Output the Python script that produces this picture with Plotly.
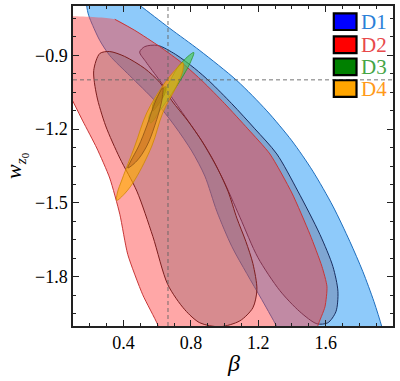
import plotly.graph_objects as go

# ---------------- data (data units: beta, w_z0) ----------------
# D1 : outer (2 sigma) and inner (1 sigma) contours
d1_outer_beta = [0.187, 0.181, 0.193, 0.217, 0.259, 0.318, 0.437, 0.586, 0.704, 0.805, 0.883, 0.954, 1.043,
                 1.132, 1.221, 1.328, 1.388,
                 1.970, 1.934, 1.887, 1.821, 1.744, 1.643, 1.524, 1.400, 1.251, 1.073, 0.853, 0.675, 0.496, 0.378]
d1_outer_w = [-0.636, -0.697, -0.738, -0.779, -0.840, -0.901, -0.983, -1.085, -1.187, -1.289, -1.391, -1.534,
              -1.677, -1.787, -1.893, -2.024, -2.101,
              -2.101, -2.004, -1.901, -1.779, -1.657, -1.513, -1.371, -1.248, -1.126, -1.003, -0.881, -0.791,
              -0.697, -0.636]
d1_inner_beta = [0.496, 0.526, 0.603, 0.710, 0.823, 0.912, 1.043, 1.180, 1.310, 1.435, 1.566, 1.643, 1.673,
                 1.661, 1.613, 1.548, 1.447, 1.328, 1.198, 1.091, 0.984, 0.871, 0.734, 0.615, 0.532]
d1_inner_w = [-0.887, -0.865, -0.860, -0.897, -0.954, -1.007, -1.097, -1.199, -1.301, -1.452, -1.628, -1.758,
              -1.860, -1.942, -1.987, -1.991, -1.942, -1.856, -1.722, -1.558, -1.395, -1.256, -1.118, -1.003,
              -0.926]

# D2 : outer contour (flat top / left side are the edge of the sampled grid) and inner contour
d2_outer_beta = [-0.098, 0.348, 0.467, 0.615, 0.752, 0.871, 1.001, 1.138, 1.269, 1.400, 1.507, 1.578, 1.608,
                 1.596, 1.554, 1.530, 0.645, 0.603, 0.514, 0.425, 0.378, 0.318, 0.241, 0.158, 0.098, -0.098]
d2_outer_w = [-0.754, -0.754, -0.799, -0.865, -0.934, -1.007, -1.097, -1.199, -1.301, -1.460, -1.628, -1.758,
              -1.840, -1.922, -1.999, -2.085, -2.085, -1.995, -1.873, -1.709, -1.546, -1.399, -1.277, -1.167,
              -1.085, -0.860]
d2_inner_beta = [0.259, 0.318, 0.407, 0.526, 0.616, 0.687, 0.782, 0.865, 0.942, 1.020, 1.073, 1.126, 1.168,
                 1.192, 1.168, 1.091, 0.972, 0.853, 0.764, 0.663, 0.574, 0.479, 0.378, 0.294, 0.241, 0.223]
d2_inner_w = [-0.893, -0.885, -0.905, -0.954, -1.011, -1.085, -1.167, -1.248, -1.338, -1.452, -1.562, -1.656,
              -1.746, -1.852, -1.926, -1.979, -2.003, -1.987, -1.934, -1.832, -1.636, -1.452, -1.318, -1.187,
              -1.065, -0.962]

# D3 : small contours
d3_outer_beta = [0.817, 0.799, 0.758, 0.686, 0.615, 0.562, 0.550, 0.591, 0.657, 0.722, 0.782]
d3_outer_w = [-0.889, -0.926, -0.979, -1.056, -1.126, -1.175, -1.154, -1.101, -1.028, -0.950, -0.905]
d3_inner_beta = [0.651, 0.645, 0.609, 0.574, 0.574, 0.603, 0.633]
d3_inner_w = [-1.028, -1.056, -1.097, -1.126, -1.101, -1.065, -1.036]

# D4 : small contours
d4_outer_beta = [0.752, 0.752, 0.716, 0.633, 0.568, 0.470, 0.410, 0.360, 0.363, 0.392, 0.467, 0.538, 0.633, 0.704]
d4_outer_w = [-0.930, -0.962, -1.024, -1.134, -1.269, -1.403, -1.460, -1.489, -1.460, -1.403, -1.269, -1.134,
              -1.024, -0.962]
d4_inner_beta = [0.633, 0.627, 0.585, 0.538, 0.478, 0.425, 0.443, 0.490, 0.538, 0.591]
d4_inner_w = [-1.032, -1.085, -1.187, -1.269, -1.330, -1.358, -1.330, -1.269, -1.187, -1.085]

# reference (dashed) lines
ref_beta = 0.664
ref_w = -1.0

# axes
x_range = [0.1, 2.0]
y_range = [-2.0, -0.7]
x_ticks = [0.4, 0.8, 1.2, 1.6]
x_ticktext = ["0.4", "0.8", "1.2", "1.6"]
y_ticks = [-0.9, -1.2, -1.5, -1.8]
y_ticktext = ["\u22120.9", "\u22121.2", "\u22121.5", "\u22121.8"]

legend_names = ["D1", "D2", "D3", "D4"]
legend_box_colors = ["#0000ff", "#ff0000", "#008000", "#ffa500"]
legend_text_colors = ["#2a7fd8", "#e8494b", "#45a545", "#ff9a1a"]

SERIF = "Liberation Serif"


def closed(a):
    return list(a) + [a[0]]


fig = go.Figure()


def region(bx, wy, fill, line_color, line_width=1.0, smooth=0.8):
    fig.add_trace(go.Scatter(
        x=closed(bx), y=closed(wy), mode="lines", fill="toself", fillcolor=fill,
        line=dict(color=line_color, width=line_width, shape="spline", smoothing=smooth),
        hoverinfo="skip", showlegend=False))


# D1
region(d1_outer_beta, d1_outer_w, "rgba(30,150,245,0.50)", "rgb(30,110,190)", 1.0)
region(d1_inner_beta, d1_inner_w, "rgba(100,100,135,0.35)", "rgb(25,45,95)", 1.0)

# D2 outer: fill without edge, then edge only along the real contour
fig.add_trace(go.Scatter(
    x=closed(d2_outer_beta), y=closed(d2_outer_w), mode="lines", fill="toself",
    fillcolor="rgba(255,60,60,0.45)", line=dict(width=0, color="rgba(0,0,0,0)", shape="spline", smoothing=0.6),
    hoverinfo="skip", showlegend=False))
fig.add_trace(go.Scatter(
    x=d2_outer_beta[1:16], y=d2_outer_w[1:16], mode="lines",
    line=dict(color="rgb(200,55,55)", width=1.0, shape="spline", smoothing=0.6),
    hoverinfo="skip", showlegend=False))
fig.add_trace(go.Scatter(
    x=d2_outer_beta[16:25], y=d2_outer_w[16:25], mode="lines",
    line=dict(color="rgb(200,55,55)", width=1.0, shape="spline", smoothing=0.6),
    hoverinfo="skip", showlegend=False))
region(d2_inner_beta, d2_inner_w, "rgba(140,90,100,0.35)", "rgb(125,30,30)", 1.0)

# D3
region(d3_outer_beta, d3_outer_w, "rgba(70,200,70,0.60)", "rgb(40,150,40)", 0.8, 1.0)
region(d3_inner_beta, d3_inner_w, "rgba(30,110,20,0.55)", "rgb(30,90,20)", 0.8, 1.0)

# D4
region(d4_outer_beta, d4_outer_w, "rgba(255,175,0,0.62)", "rgb(205,135,0)", 0.8, 1.0)
region(d4_inner_beta, d4_inner_w, "rgba(190,100,30,0.50)", "rgb(140,80,20)", 0.8, 1.0)

# reference lines
fig.add_vline(x=ref_beta, line=dict(color="rgb(100,100,100)", width=0.9, dash="4px,3px"))
fig.add_hline(y=ref_w, line=dict(color="rgb(100,100,100)", width=0.9, dash="4px,3px"))

# legend drawn by hand: boxes + coloured labels
row_top = [0.977, 0.905, 0.836, 0.768]
box_h = 0.052
for i, name in enumerate(legend_names):
    fig.add_shape(type="rect", xref="paper", yref="paper",
                  x0=0.815, x1=0.886, y0=row_top[i] - box_h, y1=row_top[i],
                  fillcolor=legend_box_colors[i], line=dict(color="black", width=2.2))
    fig.add_annotation(xref="paper", yref="paper", x=0.893, y=row_top[i] - box_h / 2,
                       text=name, showarrow=False, xanchor="left", yanchor="middle",
                       font=dict(family=SERIF, size=21, color=legend_text_colors[i]))

# axis titles
fig.add_annotation(xref="paper", yref="paper", x=0.5, y=-0.117, text="<i>β</i>", showarrow=False,
                   xanchor="center", yanchor="middle", font=dict(family=SERIF, size=24, color="black"))
fig.add_annotation(xref="paper", yref="paper", x=-0.178, y=0.5, text="<i>w</i><sub><i>z</i><sub>0</sub></sub>",
                   showarrow=False, textangle=-90, xanchor="center", yanchor="middle",
                   font=dict(family=SERIF, size=22, color="black"))

axis_common = dict(
    showline=True, linecolor="#222", linewidth=1.5, mirror="allticks",
    ticks="inside", ticklen=6, tickwidth=1.2, tickcolor="#222",
    showgrid=False, zeroline=False, automargin=False,
    tickfont=dict(family=SERIF, size=18, color="black"),
)

fig.update_xaxes(range=x_range, tickvals=x_ticks, ticktext=x_ticktext,
                 minor=dict(ticks="inside", ticklen=3.5, tickwidth=1, tickcolor="#222", dtick=0.1, tick0=0.0,
                            showgrid=False),
                 **axis_common)
fig.update_yaxes(range=y_range, tickvals=y_ticks, ticktext=y_ticktext,
                 minor=dict(ticks="inside", ticklen=3.5, tickwidth=1, tickcolor="#222", dtick=0.075, tick0=-0.9,
                            showgrid=False),
                 **axis_common)

fig.update_layout(
    width=400, height=381,
    margin=dict(l=73, r=7, t=6, b=55, autoexpand=False),
    paper_bgcolor="white", plot_bgcolor="white",
    showlegend=False,
)

fig.write_html("out.html", config={"displayModeBar": False},
               post_script="document.body.style.margin='0px';document.body.style.overflow='hidden';")
